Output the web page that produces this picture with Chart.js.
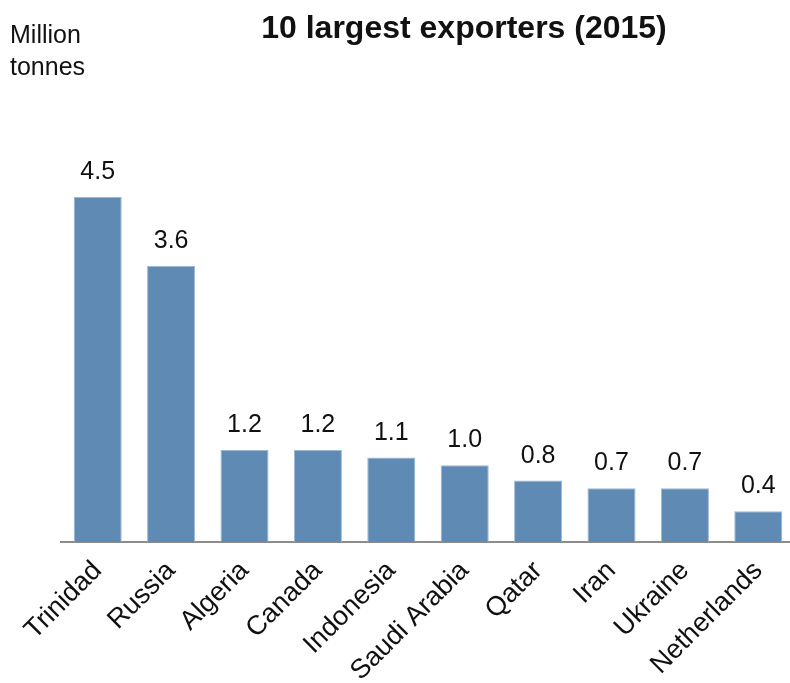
<!DOCTYPE html>
<html>
<head>
<meta charset="utf-8">
<title>10 largest exporters (2015)</title>
<script src="https://cdn.jsdelivr.net/npm/chart.js@4/dist/chart.umd.min.js"></script>
<style>
  html, body { margin: 0; padding: 0; overflow: hidden; background: #fff; }
  #wrap { position: relative; width: 800px; height: 683px; }
</style>
</head>
<body>
<div id="wrap"><canvas id="chart" width="800" height="683"></canvas></div>
<script>
const countries = ["Trinidad", "Russia", "Algeria", "Canada", "Indonesia",
                   "Saudi Arabia", "Qatar", "Iran", "Ukraine", "Netherlands"];
const exports2015 = [4.5, 3.6, 1.2, 1.2, 1.1, 1.0, 0.8, 0.7, 0.7, 0.4];
const chartTitle = "10 largest exporters (2015)";
const unitLines = ["Million", "tonnes"];

const FONT = "'Liberation Sans', Arial, Helvetica, sans-serif";

// value labels above each bar
const barLabels = {
  id: 'barLabels',
  afterDatasetsDraw(chart) {
    const ctx = chart.ctx;
    const meta = chart.getDatasetMeta(0);
    ctx.save();
    ctx.font = "25px " + FONT;
    ctx.fillStyle = "#111";
    ctx.textAlign = "center";
    ctx.textBaseline = "alphabetic";
    meta.data.forEach((bar, i) => {
      ctx.fillText(exports2015[i].toFixed(1), bar.x, bar.y - 18);
    });
    ctx.restore();
  }
};

// title and unit caption
const headings = {
  id: 'headings',
  afterDraw(chart) {
    const ctx = chart.ctx;
    ctx.save();
    ctx.fillStyle = "#111";
    ctx.textBaseline = "alphabetic";
    ctx.textAlign = "center";
    ctx.font = "bold 32px " + FONT;
    ctx.fillText(chartTitle, 464, 38);
    ctx.textAlign = "left";
    ctx.font = "25px " + FONT;
    unitLines.forEach((t, i) => ctx.fillText(t, 10, 43 + i * 32));
    ctx.restore();
  }
};

new Chart(document.getElementById("chart"), {
  type: "bar",
  data: {
    labels: countries,
    datasets: [{
      data: exports2015,
      backgroundColor: "#5e8ab4",
      borderColor: "#9bb8d4",
      borderWidth: 1,
      barPercentage: 0.655,
      categoryPercentage: 1
    }]
  },
  options: {
    responsive: false,
    animation: false,
    events: [],
    layout: { padding: { top: 120, left: 61, right: 5, bottom: 0 } },
    plugins: {
      legend: { display: false },
      title: { display: false },
      tooltip: { enabled: false }
    },
    scales: {
      x: {
        grid: { display: false, drawTicks: false },
        border: { display: true, color: "#8c8c8c", width: 2 },
        ticks: {
          autoSkip: false,
          minRotation: 45,
          maxRotation: 45,
          padding: 13,
          color: "#111",
          font: { family: FONT, size: 27 }
        },
        afterFit(scale) { scale.height = 141; }
      },
      y: {
        display: false,
        min: 0,
        max: 5.5
      }
    }
  },
  plugins: [barLabels, headings]
});
</script>
</body>
</html>
